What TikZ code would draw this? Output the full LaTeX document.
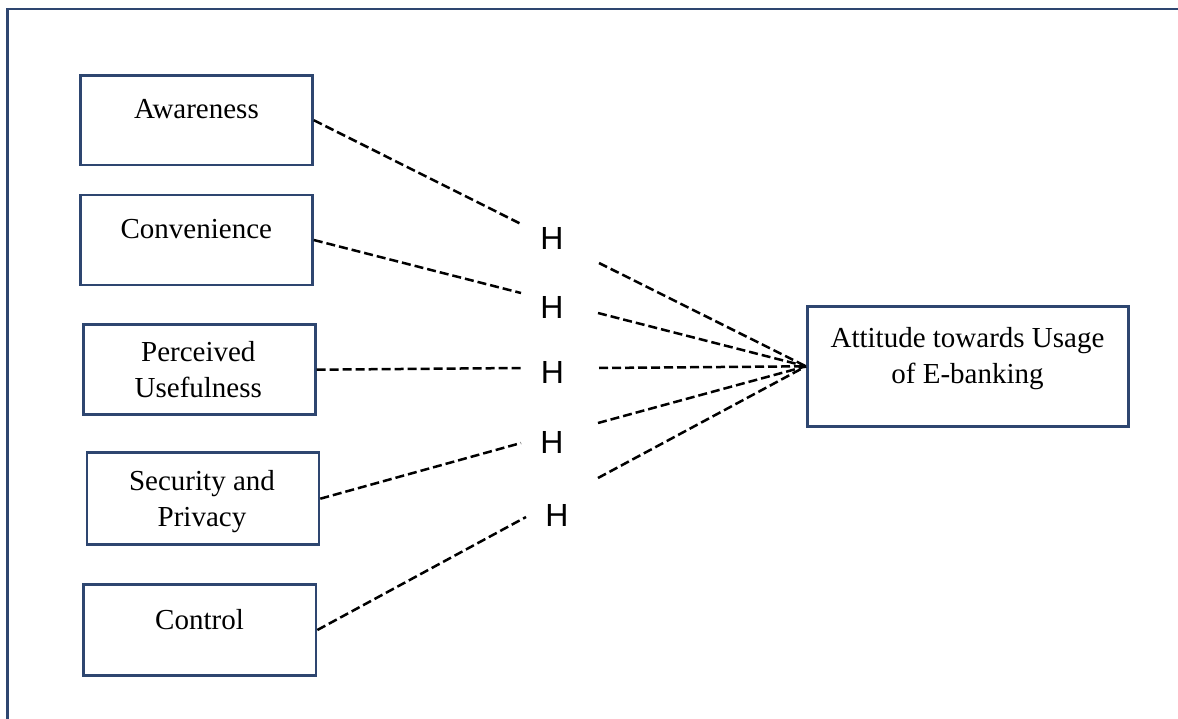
\documentclass[tikz,border=0pt]{standalone}
\usepackage{fontspec}
\setmainfont{Liberation Serif}
\newfontfamily\hfont{Liberation Sans}
\definecolor{navy}{RGB}{46,70,112}
\begin{document}
\begin{tikzpicture}[x=1pt,y=-1pt,
  box/.style={draw=navy, line width=2.6pt, rectangle, inner sep=0pt},
  lbl/.style={anchor=base, inner sep=0pt, font=\fontsize{29}{36.5}\selectfont},
  hyp/.style={anchor=base, inner sep=0pt, font=\hfont\fontsize{32}{38}\selectfont},
  link/.style={line width=2.5pt, dash pattern=on 9pt off 4pt},
  frameline/.style={draw=navy, line width=2.8pt}]
\useasboundingbox (0,0) rectangle (1178,719);
% outer frame (top and left edges)
\draw[frameline] (7.5,719) -- (7.5,9) -- (1178,9);
% boxes
\node[box, minimum width=232pt, minimum height=89.5pt] (a1) at (196.5,120.25) {};
\node[box, minimum width=232pt, minimum height=90pt] (a2) at (196.5,240) {};
\node[box, minimum width=232pt, minimum height=90pt] (a3) at (199.3,369.7) {};
\node[box, minimum width=232pt, minimum height=92pt] (a4) at (203,498.7) {};
\node[box, minimum width=232.7pt, minimum height=90.6pt] (a5) at (199.7,630) {};
\node[box, minimum width=321.4pt, minimum height=120pt] (att) at (968,366.3) {};
% box texts
\node[lbl] (t1) at (196.5,119) {Awareness};
\node[lbl] (t2) at (196.3,239) {Convenience};
\node[lbl] (t3) at (198.3,361) {\begin{tabular}[t]{@{}c@{}}Perceived\\Usefulness\end{tabular}};
\node[lbl] (t4) at (202,490) {\begin{tabular}[t]{@{}c@{}}Security and\\Privacy\end{tabular}};
\node[lbl] (t5) at (199.5,629) {Control};
\node[lbl] (t6) at (967.5,347) {\begin{tabular}[t]{@{}c@{}}Attitude towards Usage\\of E-banking\end{tabular}};
% hypothesis labels
\node[hyp] (h1) at (552,250) {H};
\node[hyp] (h2) at (552,319) {H};
\node[hyp] (h3) at (552.5,383) {H};
\node[hyp] (h4) at (552,453) {H};
\node[hyp] (h5) at (557,526) {H};
% connector ends near the labels
\coordinate (l1) at (521,224);
\coordinate (r1) at (599,263);
\coordinate (l2) at (521,293);
\coordinate (r2) at (598,313);
\coordinate (l3) at (521,368);
\coordinate (r3) at (599,368);
\coordinate (l4) at (521,443);
\coordinate (r4) at (598,423);
\coordinate (l5) at (526,517);
\coordinate (r5) at (598,478);
% connectors
\draw[link] (a1.east) -- (l1);
\draw[link] (a2.east) -- (l2);
\draw[link] (a3.east) -- (l3);
\draw[link] (a4.east) -- (l4);
\draw[link] (a5.east) -- (l5);
\draw[link] (r1) -- (att.west);
\draw[link] (r2) -- (att.west);
\draw[link] (r3) -- (att.west);
\draw[link] (r4) -- (att.west);
\draw[link] (r5) -- (att.west);
\end{tikzpicture}
\end{document}
